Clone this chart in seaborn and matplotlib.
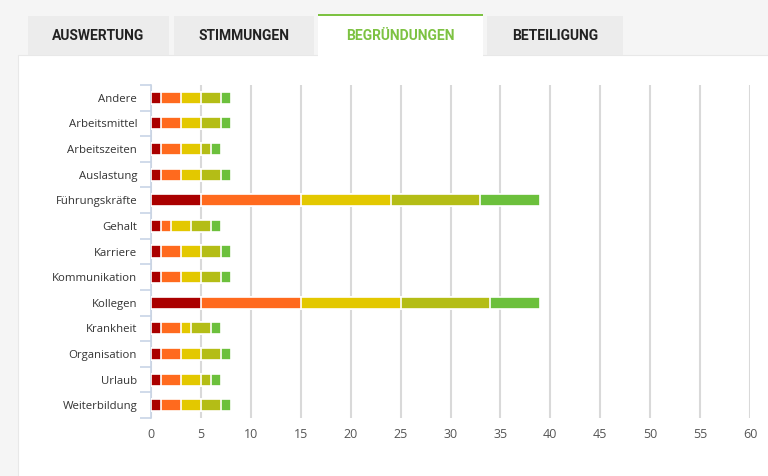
import matplotlib
matplotlib.use("Agg")
import matplotlib.pyplot as plt
from matplotlib.patches import Rectangle
import numpy as np
import pandas as pd
import seaborn as sns

categories = ["Andere", "Arbeitsmittel", "Arbeitszeiten", "Auslastung", "Führungskräfte",
              "Gehalt", "Karriere", "Kommunikation", "Kollegen", "Krankheit",
              "Organisation", "Urlaub", "Weiterbildung"]
s1 = [1, 1, 1, 1, 5, 1, 1, 1, 5, 1, 1, 1, 1]
s2 = [2, 2, 2, 2, 10, 1, 2, 2, 10, 2, 2, 2, 2]
s3 = [2, 2, 2, 2, 9, 2, 2, 2, 10, 1, 2, 2, 2]
s4 = [2, 2, 1, 2, 9, 2, 2, 2, 9, 2, 2, 1, 2]
s5 = [1, 1, 1, 1, 6, 1, 1, 1, 5, 1, 1, 1, 1]
series = [s1, s2, s3, s4, s5]
colors = ["#aa0000", "#ff6a1e", "#e3c800", "#b4bd16", "#6cc03c"]
tabs = ["AUSWERTUNG", "STIMMUNGEN", "BEGRÜNDUNGEN", "BETEILIGUNG"]
xticks = list(range(0, 65, 5))

W, H = 768, 476
fig = plt.figure(figsize=(W / 100, H / 100), dpi=100)
fig.patch.set_facecolor("#f5f5f5")

def px(x0, y0, x1, y1, **kw):
    r = Rectangle((x0 / W, 1 - y1 / H), (x1 - x0) / W, (y1 - y0) / H,
                  transform=fig.transFigure, zorder=-5, **kw)
    fig.patches.append(r)

# white panel
px(18, 55, 770, 480, facecolor="white", edgecolor="#e8e8e8", lw=0.8)
# tabs
tab_x = [(28, 169), (174, 314), (318, 483), (487, 623)]
for i, (name, (a, b)) in enumerate(zip(tabs, tab_x)):
    active = (i == 2)
    if active:
        px(a, 15, b, 56.5, facecolor="white", edgecolor="none")
        px(a, 14, b, 16, facecolor="#7dc242", edgecolor="none")
    else:
        px(a, 16, b, 55, facecolor="#ececec", edgecolor="none")
    fig.text(((a + b) / 2) / W, 1 - 35.5 / H, name, ha="center", va="center",
             fontsize=10, fontweight="bold", family="Roboto",
             color="#7dc242" if active else "#222222")

ax = fig.add_axes([151 / W, (H - 418) / H, (750 - 151) / W, (418 - 85) / H])
ax.set_zorder(5)
ax.set_facecolor("white")

cum = np.cumsum(np.array(series), axis=0)
df = pd.DataFrame({"cat": categories})
for k in range(len(series) - 1, -1, -1):
    df["v"] = cum[k]
    sns.barplot(data=df, x="v", y="cat", orient="h", color=colors[k], saturation=1,
                width=0.47, edgecolor="white", linewidth=1.2, ax=ax, zorder=3 + (4 - k) * 0.01)

ax.set_xlim(0, 60)
ax.set_ylim(len(categories) - 0.5, -0.5)
ax.set_xticks(xticks)
ax.set_xticklabels([str(t) for t in xticks])
ax.set_xlabel("")
ax.set_ylabel("")
ax.grid(axis="x", color="#d9d9d9", lw=1.5, zorder=0)
ax.grid(axis="y", visible=False)
for s in ["top", "right", "bottom"]:
    ax.spines[s].set_visible(False)
ax.spines["left"].set_color("#c8d4e6")
ax.spines["left"].set_linewidth(1.2)
ax.set_axisbelow(True)
ax.tick_params(axis="x", length=0, pad=7.5, labelsize=9, labelcolor="#555555")
ax.tick_params(axis="y", which="major", length=0, pad=10, labelsize=8.2, labelcolor="#333333")
ax.set_yticks(np.arange(-0.5, len(categories), 1), minor=True)
ax.tick_params(axis="y", which="minor", length=8, width=1.2, color="#c8d4e6")
for lbl in ax.get_xticklabels() + ax.get_yticklabels():
    lbl.set_family(["Open Sans", "DejaVu Sans"])

fig.savefig("out.png", dpi=100, facecolor=fig.get_facecolor())
